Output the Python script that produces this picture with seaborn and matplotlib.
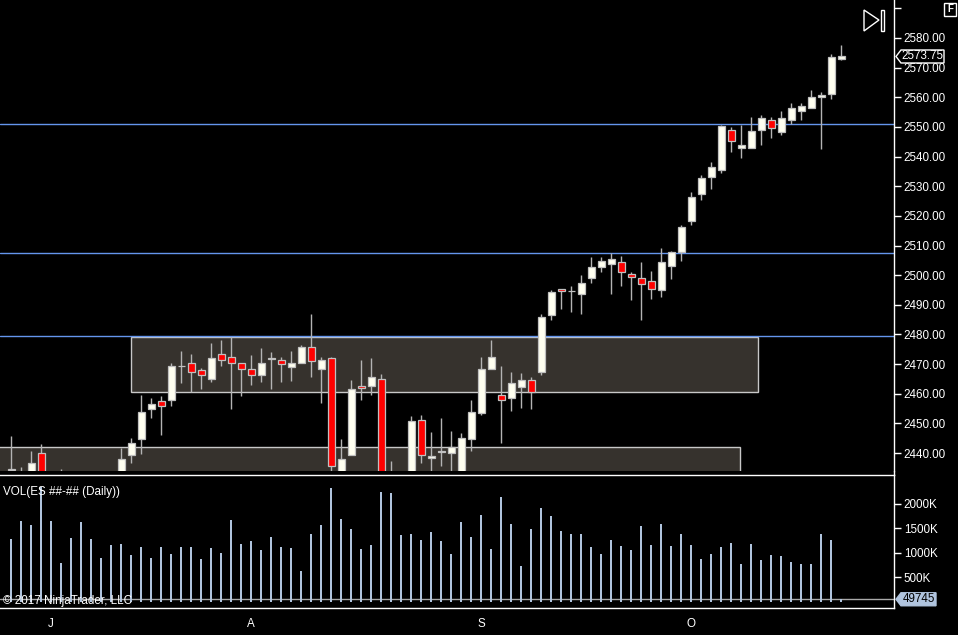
import matplotlib
matplotlib.use("Agg")
import matplotlib.pyplot as plt
import matplotlib.transforms as mtransforms
from matplotlib.patches import Polygon, Rectangle
from matplotlib.lines import Line2D
import numpy as np
import seaborn as sns

# ---------------- data (ES daily) ----------------
opens = [2434.5, 2428.0, 2427.0, 2440.0, 2424.0, 2427.0, 2425.0, 2428.0, 2422.0, 2426.0,
         2424.0, 2430.0, 2439.25, 2444.75, 2455.0, 2457.5, 2457.75, 2469.25, 2470.5, 2468.0,
         2465.0, 2473.25, 2472.5, 2470.25, 2468.5, 2466.25, 2471.75, 2471.25, 2469.0, 2470.25,
         2475.75, 2468.25, 2472.0, 2432.0, 2439.5, 2462.5, 2462.5, 2465.0, 2430.0, 2432.0,
         2429.0, 2451.0, 2438.25, 2440.5, 2440.0, 2433.0, 2444.75, 2453.5, 2468.25, 2459.5,
         2458.5, 2462.25, 2464.5, 2467.5, 2486.5, 2495.25, 2494.5, 2493.5, 2499.0, 2502.75,
         2503.75, 2504.5, 2500.5, 2499.0, 2498.0, 2495.0, 2503.25, 2507.75, 2518.25, 2527.25,
         2533.0, 2535.5, 2549.0, 2543.0, 2543.0, 2549.0, 2552.25, 2548.25, 2552.25, 2555.5,
         2556.5, 2560.0, 2561.0, 2572.75]
highs = [2445.75, 2435.25, 2440.75, 2443.0, 2431.0, 2434.5, 2431.0, 2432.0, 2428.0, 2431.0,
         2432.0, 2441.75, 2445.0, 2459.5, 2458.5, 2459.25, 2470.5, 2474.5, 2473.5, 2468.75,
         2477.0, 2478.0, 2479.0, 2470.25, 2473.0, 2475.5, 2474.0, 2472.5, 2474.5, 2476.5,
         2486.75, 2472.5, 2472.25, 2444.75, 2464.75, 2471.5, 2472.0, 2466.75, 2437.5, 2433.5,
         2452.5, 2453.0, 2447.0, 2451.75, 2447.5, 2446.75, 2458.0, 2472.5, 2478.0, 2469.5,
         2467.5, 2467.0, 2465.5, 2487.0, 2495.0, 2495.5, 2496.25, 2500.0, 2506.0, 2506.0,
         2507.5, 2506.5, 2501.0, 2504.5, 2501.25, 2509.0, 2508.0, 2517.0, 2528.0, 2533.75,
         2538.0, 2550.5, 2550.0, 2550.5, 2553.25, 2554.0, 2553.25, 2555.5, 2558.0, 2558.0,
         2562.5, 2561.75, 2574.5, 2577.5]
lows = [2428.0, 2423.0, 2424.0, 2421.0, 2418.0, 2420.0, 2419.0, 2420.0, 2416.0, 2421.0,
        2419.0, 2428.0, 2436.75, 2439.75, 2452.0, 2446.0, 2455.75, 2463.5, 2460.5, 2461.5,
        2464.0, 2469.5, 2455.0, 2459.25, 2463.0, 2464.0, 2461.5, 2464.0, 2464.25, 2470.25,
        2465.5, 2457.0, 2428.0, 2429.0, 2439.5, 2458.0, 2459.5, 2428.0, 2425.0, 2424.0,
        2427.0, 2436.75, 2432.0, 2435.5, 2433.5, 2431.0, 2440.75, 2452.75, 2468.25, 2443.5,
        2454.25, 2455.25, 2455.0, 2466.5, 2485.0, 2488.75, 2487.5, 2486.75, 2497.5, 2501.0,
        2493.75, 2496.5, 2491.75, 2484.75, 2492.0, 2492.75, 2498.75, 2504.75, 2517.0, 2525.5,
        2529.0, 2534.5, 2541.5, 2539.5, 2542.75, 2544.0, 2546.25, 2547.25, 2551.0, 2552.25,
        2556.25, 2542.5, 2559.5, 2572.5]
closes = [2434.25, 2430.0, 2436.5, 2424.0, 2427.0, 2425.0, 2428.0, 2422.0, 2426.0, 2424.0,
          2430.0, 2438.0, 2443.5, 2454.0, 2456.5, 2455.75, 2469.5, 2469.25, 2467.5, 2466.5,
          2472.0, 2471.25, 2470.25, 2468.25, 2466.25, 2470.25, 2471.75, 2470.0, 2470.25, 2475.75,
          2471.0, 2471.25, 2435.5, 2438.0, 2461.5, 2462.0, 2465.5, 2431.0, 2432.0, 2428.0,
          2450.75, 2439.5, 2439.0, 2440.5, 2442.0, 2445.0, 2453.75, 2468.25, 2472.25, 2457.75,
          2463.5, 2464.5, 2460.75, 2485.75, 2494.25, 2494.5, 2494.5, 2497.25, 2502.75, 2504.75,
          2505.5, 2501.0, 2499.25, 2497.0, 2495.5, 2504.5, 2507.75, 2516.25, 2526.25, 2532.75,
          2536.5, 2550.25, 2545.25, 2543.75, 2548.5, 2553.0, 2549.5, 2553.0, 2556.25, 2557.0,
          2560.0, 2560.75, 2573.5, 2573.75]
volumes_k = [1282, 1650, 1567, 2352, 1650, 791, 1302, 1630, 1282, 894,
             1159, 1180, 955, 1118, 894, 1118, 975, 1118, 1118, 873,
             1098, 996, 1671, 1180, 1241, 1057, 1323, 1118, 1098, 628,
             1384, 1567, 2325, 1691, 1486, 1077, 1159, 2243, 2223, 1364,
             1384, 1262, 1425, 1241, 975, 1630, 1323, 1773, 1077, 2141,
             1589, 730, 1486, 1916, 1752, 1445, 1384, 1384, 1118, 975,
             1262, 1139, 1057, 1548, 1159, 1589, 1139, 1384, 1159, 873,
             975, 1118, 1200, 771, 1180, 853, 955, 934, 812, 771,
             771, 1384, 1262, 49.745]

month_labels = ['J', 'A', 'S', 'O']
month_bars = [4, 24, 47, 68]
level_lines = [2551.0, 2507.5, 2479.5]
zone_start = [12.0, -2.0]
zone_end = [74.7, 72.9]
zone_top = [2479.0, 2442.0]
zone_bottom = [2460.75, 2420.0]
price_ticks = [2440, 2450, 2460, 2470, 2480, 2490, 2500, 2510, 2520, 2530, 2540, 2550, 2560, 2570, 2580, 2590]
vol_ticks = [500, 1000, 1500, 2000]

# ---------------- style ----------------
sns.set_theme(style="dark", rc={
    "figure.facecolor": "black", "axes.facecolor": "black",
    "axes.edgecolor": "white", "text.color": "white",
    "xtick.color": "white", "ytick.color": "white",
    "axes.grid": False,
})
plt.rcParams['font.family'] = ['Liberation Sans', 'DejaVu Sans']
FS = 8.4

W, H = 958, 635
fig = plt.figure(figsize=(W / 100, H / 100), dpi=100)

def fig_rect(left, top, right, bottom):
    return [left / W, 1 - bottom / H, (right - left) / W, (bottom - top) / H]

ax = fig.add_axes(fig_rect(0, 0, 894, 471))
axv = fig.add_axes(fig_rect(0, 475, 894, 608))

idx = np.arange(len(opens))
o = np.array(opens); c = np.array(closes)
up = c >= o

# zones and levels
for s, e, t, b in zip(zone_start, zone_end, zone_top, zone_bottom):
    ax.add_patch(Rectangle((s, b), e - s, t - b, facecolor='#36322d',
                           edgecolor='#c8c8c8', lw=1, zorder=1))
for lvl in level_lines:
    ax.axhline(lvl, color='#6495ed', lw=1, zorder=2)

# candles
ax.vlines(idx, lows, highs, color='#b4b4b4', lw=1, zorder=3)
body_h = np.maximum(np.abs(c - o), 0.2)
body_b = np.minimum(o, c)
ax.bar(idx, body_h, bottom=body_b, width=0.7,
       color=np.where(up, '#fffff0', '#ff0000'), edgecolor='#c0c0c0',
       linewidth=0.9, zorder=4)

ax.set_xlim(-1.1, 88.3)
ax.set_ylim(2433.96, 2592.8)
ax.yaxis.tick_right()
ax.set_yticks(price_ticks)
ax.set_yticklabels([f"{p:.2f}" if p < 2590 else "" for p in price_ticks])
ax.tick_params(axis='y', direction='out', length=5, width=1, colors='white',
               labelsize=FS, pad=2, right=True, left=False)
ax.set_xticks([])
for side in ['top', 'left', 'bottom']:
    ax.spines[side].set_visible(False)
ax.spines['right'].set_color('white')
ax.spines['right'].set_linewidth(1)

# volume
sns.barplot(x=idx, y=volumes_k, native_scale=True, color='#b0c4de', width=0.2,
            linewidth=0, saturation=1, errorbar=None, ax=axv, zorder=3)
axv.axhline(volumes_k[-1], color='#a9a9a9', lw=1, zorder=2)
axv.set_xlim(-1.1, 88.3)
axv.set_ylim(-129, 2591)
axv.yaxis.tick_right()
axv.set_yticks(vol_ticks)
axv.set_yticklabels([f"{v}K" for v in vol_ticks])
axv.set_xticks(month_bars)
axv.set_xticklabels(month_labels)
axv.tick_params(axis='y', direction='out', length=5, width=1, colors='white',
                labelsize=FS, pad=2, right=True, left=False)
axv.tick_params(axis='x', direction='out', length=5, width=1, colors='white',
                labelsize=FS, pad=2)
axv.set_xlabel(''); axv.set_ylabel('')
axv.spines['left'].set_visible(False)
for side in ['top', 'bottom', 'right']:
    axv.spines[side].set_color('white')
    axv.spines[side].set_linewidth(1)
axv.text(3 / 894, 0.87, "VOL(ES ##-## (Daily))", transform=axv.transAxes,
         fontsize=FS, color='white', va='center', ha='left')
axv.text(3 / 894, 0.055, "\u00a9 2017 NinjaTrader, LLC", transform=axv.transAxes,
         fontsize=FS, color='white', va='center', ha='left', zorder=5)

fig.add_artist(Line2D([894 / W] * 2, [1 - 471 / H, 1 - 475 / H], color='white',
                      lw=1, transform=fig.transFigure))

# last-value markers on the axis
fig.canvas.draw()
ident = mtransforms.IdentityTransform()

def marker(axis, value, text, fc, ec, tc, width):
    x0 = axis.transAxes.transform((1, 0))[0] + 2
    y0 = axis.transData.transform((0, value))[1]
    hh = 6.5
    verts = [(x0, y0), (x0 + 5, y0 + hh), (x0 + width, y0 + hh),
             (x0 + width, y0 - hh), (x0 + 5, y0 - hh)]
    fig.add_artist(Polygon(verts, closed=True, facecolor=fc, edgecolor=ec,
                           lw=1, transform=ident))
    fig.text(x0 + 5 + (width - 5) / 2, y0, text, transform=ident, fontsize=FS,
             color=tc, ha='center', va='center')

marker(ax, closes[-1], f"{closes[-1]:.2f}", 'black', 'white', 'white', 48)
marker(axv, volumes_k[-1], f"{int(round(volumes_k[-1] * 1000))}", '#b0c4de', '#b0c4de', 'black', 40)

# play-to-end icon and "F" box
def px(x, y):
    return (x / W, 1 - y / H)

fig.add_artist(Polygon([px(864, 10), px(879, 20), px(864, 31)], closed=True,
                       fill=False, edgecolor='white', lw=1, transform=fig.transFigure))
fig.add_artist(Polygon([px(881, 10), px(884, 10), px(884, 31), px(881, 31)], closed=True,
                       fill=False, edgecolor='white', lw=1, transform=fig.transFigure))
fig.add_artist(Polygon([px(944, 3), px(956, 3), px(956, 16), px(944, 16)], closed=True,
                       facecolor='black', edgecolor='white', lw=1, transform=fig.transFigure))
fig.text(950 / W, 1 - 9.5 / H, "F", fontsize=7, fontweight='bold', color='white',
         ha='center', va='center')

fig.savefig("out.png", dpi=100, facecolor='black')
